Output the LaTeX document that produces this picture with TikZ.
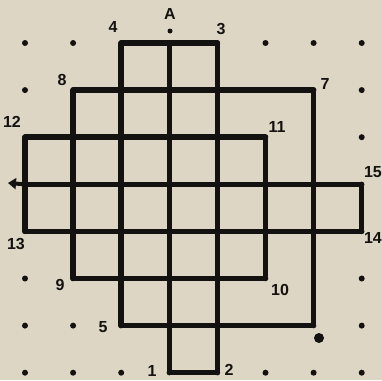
\documentclass[tikz,border=0pt]{standalone}
\usepackage{fontspec}
\setmainfont{Liberation Sans}
\usetikzlibrary{arrows.meta}
\definecolor{paper}{HTML}{DDD6C4}
\definecolor{ink}{HTML}{141210}
\tikzset{
  ln/.style={draw=ink,line width=5.5pt,line cap=round,line join=round},
  gdot/.style={circle,fill=ink,inner sep=0pt,minimum size=6pt},
  lbl/.style={text=ink,font=\fontsize{16}{16}\selectfont\bfseries,inner sep=0pt}
}
\begin{document}
\begin{tikzpicture}[x=1pt,y=-1pt]
\fill[paper] (0,0) rectangle (382,380);
\useasboundingbox (0,0) rectangle (382,380);
\foreach \i in {0,...,7}{
  \foreach \j in {0,...,7}{
    \coordinate (p\i\j) at ({25+48.1*\i},{43+47.1*\j});
  }
}
% horizontal lines
\draw[ln] (p20) -- (p40);
\draw[ln] (p11) -- (p61);
\draw[ln] (p02) -- (p52);
\draw[ln] (p03) -- (p73);
\draw[ln] (p04) -- (p74);
\draw[ln] (p15) -- (p55);
\draw[ln] (p26) -- (p66);
\draw[ln] (p37) -- (p47);
% vertical lines
\draw[ln] (p02) -- (p04);
\draw[ln] (p11) -- (p15);
\draw[ln] (p20) -- (p26);
\draw[ln] (p30) -- (p37);
\draw[ln] (p40) -- (p47);
\draw[ln] (p52) -- (p55);
\draw[ln] (p61) -- (p66);
\draw[ln] (p73) -- (p74);
% left mark
\coordinate (lm) at (8,183);
\draw[draw=ink,line width=4pt,-{Triangle[length=8pt,width=11pt]}] (p03) -- (lm);
% dots outside the figure
\foreach \c in {00,10,50,60,70,01,71,72,05,75,06,16,76,07,17,27,57,67,77}{
  \node[gdot] (d\c) at (p\c) {};
}
\node[circle,fill=ink,inner sep=0pt,minimum width=10pt,minimum height=9pt] (blob) at (319,338) {};
\node[gdot,minimum size=5pt] (topdot) at (170,31) {};
% labels
\node[lbl] (l4) at (113,27) {4};
\node[lbl] (lA) at (170,14) {A};
\node[lbl] (l3) at (221,29) {3};
\node[lbl] (l8) at (62,80) {8};
\node[lbl] (l7) at (325,84) {7};
\node[lbl] (l11) at (277,127) {11};
\node[lbl] (l12) at (12,122) {12};
\node[lbl,anchor=east] (l15) at (382,172) {15};
\node[lbl] (l13) at (16,244) {13};
\node[lbl,anchor=east] (l14) at (382,238) {14};
\node[lbl] (l9) at (60,285) {9};
\node[lbl] (l10) at (280,290) {10};
\node[lbl] (l5) at (103,327) {5};
\node[lbl] (l1) at (152,371) {1};
\node[lbl] (l2) at (229,370) {2};
\end{tikzpicture}
\end{document}
